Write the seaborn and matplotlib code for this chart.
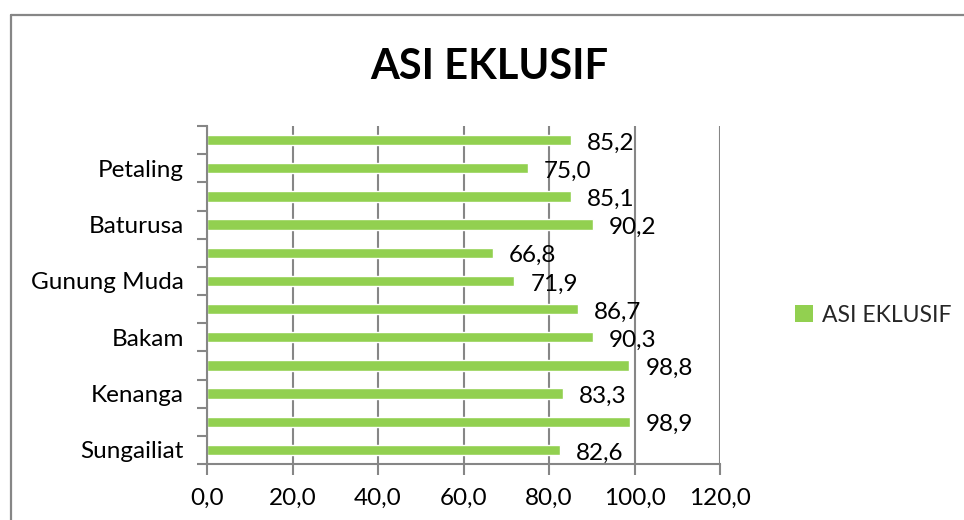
import matplotlib
matplotlib.use("Agg")
import matplotlib.pyplot as plt
import seaborn as sns
import pandas as pd
from matplotlib.patches import Patch
from matplotlib.lines import Line2D

# Data (bottom to top, as in the chart)
category_ids = ["c01", "c02", "c03", "c04", "c05", "c06",
                "c07", "c08", "c09", "c10", "c11", "c12"]
category_labels = ["Sungailiat", "", "Kenanga", "", "Bakam", "",
                   "Gunung Muda", "", "Baturusa", "", "Petaling", ""]
values = [82.6, 98.9, 83.3, 98.8, 90.3, 86.7, 71.9, 66.8, 90.2, 85.1, 75.0, 85.2]
x_ticks = [0, 20, 40, 60, 80, 100, 120]
series_name = "ASI EKLUSIF"
title = "ASI EKLUSIF"

GREEN = "#92D050"
GRAY = "#868686"
FS = 17.5

sns.set_theme(style="white")
plt.rcParams["font.family"] = ["Lato", "DejaVu Sans"]

df = pd.DataFrame({"cat": category_ids, "val": values})

fig = plt.figure(figsize=(9.64, 5.20), dpi=100)
ax = fig.add_axes([207 / 964, 1 - 464 / 520, (720 - 207) / 964, (464 - 126) / 520])

sns.barplot(data=df, x="val", y="cat", order=category_ids, color=GREEN,
            width=0.37, ax=ax, zorder=3, saturation=1)
ax.invert_yaxis()
ax.set_ylim(-0.5, len(category_ids) - 0.5)
ax.set_xlim(0, 120)

ax.set_xlabel("")
ax.set_ylabel("")

# x axis
ax.set_xticks(x_ticks)
ax.set_xticklabels([f"{t:.1f}".replace(".", ",") for t in x_ticks], fontsize=FS, color="#000000")
ax.tick_params(axis="x", length=8, width=1.5, color=GRAY, pad=9, direction="out", bottom=True)
ax.grid(axis="x", color=GRAY, linewidth=1.5, zorder=0)
ax.grid(axis="y", visible=False)

# y axis
ax.set_yticks(range(len(category_ids)))
ax.set_yticklabels(category_labels, fontsize=FS, color="#000000")
ax.tick_params(axis="y", which="major", length=0, pad=16.5)
ax.set_yticks([i - 0.5 for i in range(len(category_ids) + 1)], minor=True)
ax.tick_params(axis="y", which="minor", length=7, width=1.5, color=GRAY, direction="out", left=True)

for s in ["top", "right"]:
    ax.spines[s].set_visible(False)
for s in ["left", "bottom"]:
    ax.spines[s].set_color(GRAY)
    ax.spines[s].set_linewidth(1.5)
    ax.spines[s].set_zorder(4)

# data labels
for i, v in enumerate(values):
    ax.annotate(f"{v:.1f}".replace(".", ","), xy=(v, i), xytext=(16, -3),
                textcoords="offset pixels", ha="left", va="center",
                fontsize=FS, color="#000000", zorder=5)

# title
fig.text(489 / 964, 1 - 67 / 520, title, ha="center", va="center",
         fontsize=30, fontweight="bold", color="#000000")

# legend
fig.legend(handles=[Patch(facecolor=GREEN, edgecolor="none", label=series_name)],
           loc="center left", bbox_to_anchor=(795 / 964, 1 - 315 / 520),
           frameon=False, fontsize=16.5, handlelength=0.8, handleheight=0.8,
           handletextpad=0.4, borderpad=0, borderaxespad=0)

# outer chart border
fig.add_artist(Line2D([10.5 / 964, 10.5 / 964], [0, 1 - 14.5 / 520],
                      transform=fig.transFigure, color=GRAY, linewidth=1.6))
fig.add_artist(Line2D([10.5 / 964, 1.0], [1 - 14.5 / 520, 1 - 14.5 / 520],
                      transform=fig.transFigure, color=GRAY, linewidth=1.6))

fig.savefig("out.png", dpi=100)
